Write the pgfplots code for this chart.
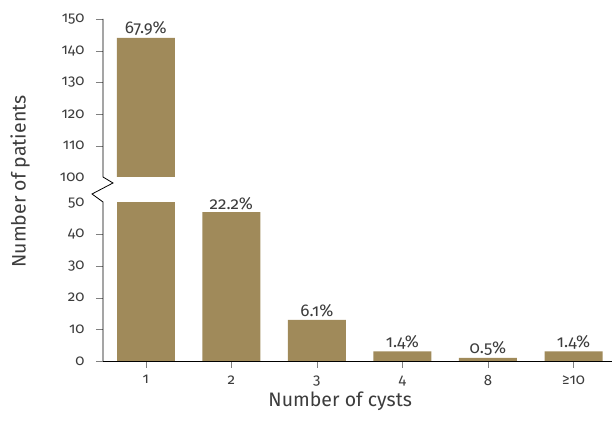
\documentclass[border=0pt]{standalone}
\usepackage{fontspec}
\setmainfont{Fira Sans}[Numbers=OldStyle]
\usepackage{pgfplots}
\pgfplotsset{compat=1.18}
\definecolor{barc}{RGB}{160,138,90}
\definecolor{txt}{RGB}{60,60,60}
\begin{document}
\begin{tikzpicture}
\useasboundingbox (-103pt,-69pt) rectangle (512pt,361pt);
\begin{axis}[
  at={(0,0)}, anchor=south west,
  scale only axis, width=509pt, height=342pt,
  xmin=-0.5, xmax=5.45, ymin=0, ymax=150,
  y coord trafo/.code={\pgfmathparse{#1>75 ? #1-42 : #1}},
  y coord inv trafo/.code={\pgfmathparse{#1>54 ? #1+42 : #1}},
  axis x line=bottom, axis y line=left,
  y axis line style={draw=none},
  x axis line style={-},
  axis on top,
  tick align=outside,
  major tick length=7pt,
  xtick={0,1,2,3,4,5},
  xticklabels={\textrm{1},\textrm{2},\textrm{3},\textrm{4},\textrm{8},\textrm{≥10}},
  ytick={0,10,20,30,40,110,120,130,140,150},
  yticklabels={\textrm{0},\textrm{10},\textrm{20},\textrm{30},\textrm{40},\textrm{110},\textrm{120},\textrm{130},\textrm{140},\textrm{150}},
  extra y ticks={50,100},
  extra y tick labels={\textrm{50},\textrm{100}},
  extra y tick style={tick style={draw=none}},
  /pgf/number format/assume math mode=true,
  ticklabel style={font=\fontsize{15}{17}\selectfont, text=txt},
  yticklabel style={xshift=-8pt},
  xticklabel style={yshift=-4pt},
  xlabel={Number of cysts},
  ylabel={Number of patients},
  every axis x label/.style={at={(axis description cs:0.466,0)}, anchor=center, yshift=-40pt, font=\fontsize{19.5}{22}\selectfont, text=txt},
  every axis y label/.style={at={(axis description cs:-0.163,0.525)}, anchor=center, rotate=90, font=\fontsize{19.5}{22}\selectfont, text=txt},
  ybar, bar width=58pt,
]
\addplot[fill=barc, draw=none, bar shift=0pt,
  nodes near coords, point meta=explicit symbolic,
  every node near coord/.append style={font=\fontsize{17}{19}\selectfont, text=txt, anchor=south, yshift=-1pt}]
  table[meta=lab] {
x y lab
0 144 67.9\%
1 47 22.2\%
2 13 6.1\%
3 3 1.4\%
4 1 0.5\%
5 3 1.4\%
};
\addplot[fill=white, draw=none, bar shift=0pt, bar width=60pt] coordinates {(0,100)};
\addplot[fill=barc, draw=none, bar shift=0pt] coordinates {(0,50.3)};
\end{axis}
\draw[line width=0.8pt] (0,0) -- (0,159pt) -- (-11pt,167pt) -- (10pt,178pt) -- (0,184pt) -- (0,342pt);
\end{tikzpicture}
\end{document}
